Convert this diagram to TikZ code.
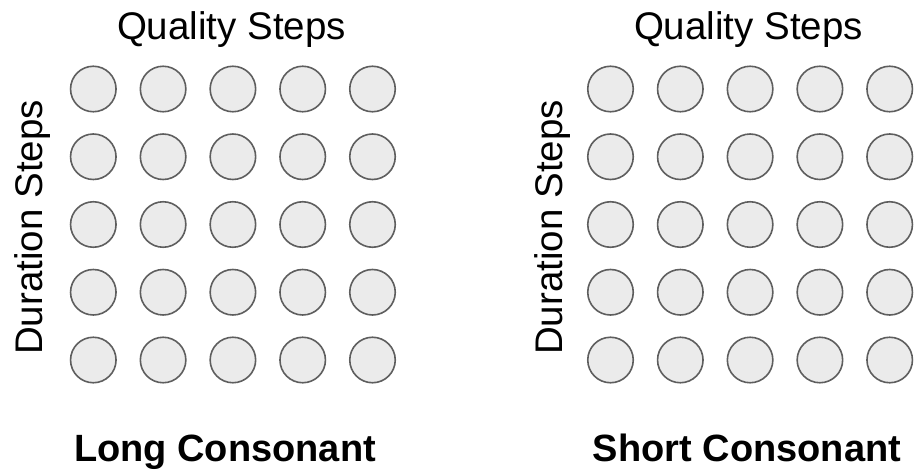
\documentclass[tikz,border=0pt]{standalone}
\usepackage{fontspec}
\setmainfont{Liberation Sans}
\definecolor{dotfill}{HTML}{EBEBEB}
\definecolor{dotline}{HTML}{5E5E5E}
\begin{document}
\begin{tikzpicture}[x=1pt,y=-1pt,
  dot/.style={circle,draw=dotline,fill=dotfill,line width=1.6pt,minimum size=45.5pt,inner sep=0pt},
  axislabel/.style={font=\fontsize{38.5}{46}\selectfont,anchor=base,inner sep=0pt},
  titlelabel/.style={font=\fontsize{38}{46}\selectfont\bfseries,anchor=base,inner sep=0pt}]
\useasboundingbox[fill=white] (0,0) rectangle (915,470);
\foreach \r in {0,...,4}{
  \foreach \c in {0,...,4}{
    \node[dot] (L-\r-\c) at ({93.3+69.8*\c},{89+67.75*\r}) {};
    \node[dot] (R-\r-\c) at ({610.5+69.8*\c},{89+67.75*\r}) {};
  }
}
\node[axislabel] (qL) at (231.5,39.5) {Quality Steps};
\node[axislabel] (qR) at (748.5,39.5) {Quality Steps};
\node[axislabel,rotate=90] (dL) at (42,227.5) {Duration Steps};
\node[axislabel,rotate=90] (dR) at (562,227.5) {Duration Steps};
\node[titlelabel] (tL) at (225,461) {Long Consonant};
\node[titlelabel] (tR) at (747,461) {Short Consonant};
\end{tikzpicture}
\end{document}
